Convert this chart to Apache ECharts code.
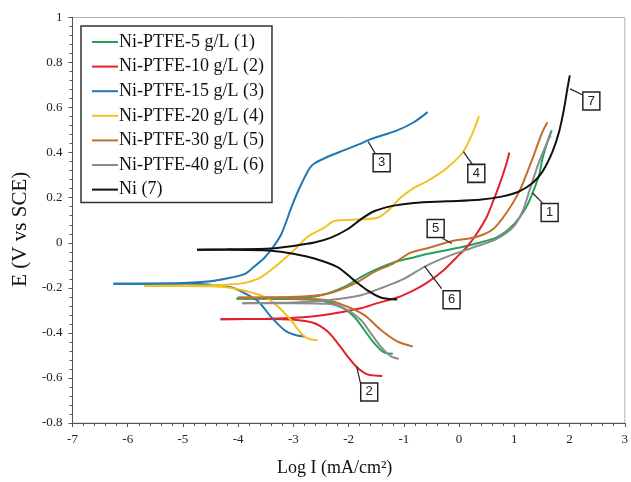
<!DOCTYPE html>
<html><head><meta charset="utf-8">
<script src="https://cdn.jsdelivr.net/npm/echarts@6/dist/echarts.min.js"></script>
<style>html,body{margin:0;padding:0;background:#fff}#c{width:631px;height:482px}</style>
</head><body><div id="c"></div>
<script>
// ---- data (Log I in mA/cm², E in V vs SCE) ----
const seriesNames = ['Ni-PTFE-5 g/L (1)','Ni-PTFE-10 g/L (2)','Ni-PTFE-15 g/L (3)','Ni-PTFE-20 g/L (4)','Ni-PTFE-30 g/L (5)','Ni-PTFE-40 g/L (6)','Ni (7)'];
const xTicks = [-7,-6,-5,-4,-3,-2,-1,0,1,2,3];
const yTicks = [-0.8,-0.6,-0.4,-0.2,0,0.2,0.4,0.6,0.8,1];

const cath1 = [[-4.03,-0.248],[-3.5,-0.249],[-2.98,-0.25],[-2.5,-0.256],[-2.14,-0.284],[-1.9,-0.328],[-1.72,-0.386],[-1.54,-0.445],[-1.36,-0.487],[-1.2,-0.493]];
const anod1 = [[-4.03,-0.247],[-3.5,-0.247],[-2.98,-0.246],[-2.5,-0.233],[-2.08,-0.196],[-1.78,-0.152],[-1.48,-0.116],[-1.12,-0.082],[-0.82,-0.065],[-0.585,-0.05],[0.013,-0.021],[0.313,-0.003],[0.673,0.023],[0.91,0.062],[1.09,0.111],[1.24,0.169],[1.33,0.221],[1.45,0.301],[1.51,0.374],[1.6,0.448],[1.677,0.499]];

const cath2 = [[-4.32,-0.339],[-3.5,-0.338],[-2.98,-0.342],[-2.62,-0.357],[-2.38,-0.394],[-2.2,-0.445],[-2.02,-0.504],[-1.84,-0.555],[-1.66,-0.584],[-1.39,-0.591]];
const anod2 = [[-4.32,-0.339],[-3.5,-0.337],[-2.98,-0.333],[-2.38,-0.318],[-1.78,-0.291],[-1.48,-0.268],[-1.12,-0.243],[-0.824,-0.211],[-0.585,-0.178],[-0.285,-0.123],[-0.047,-0.065],[0.133,-0.021],[0.313,0.038],[0.493,0.111],[0.64,0.199],[0.73,0.257],[0.85,0.345],[0.91,0.401]];

const cath3 = [[-6.26,-0.182],[-5.0,-0.182],[-4.5,-0.186],[-4.1,-0.2],[-3.85,-0.228],[-3.64,-0.26],[-3.4,-0.33],[-3.16,-0.388],[-2.98,-0.408],[-2.8,-0.416]];
const anod3 = [[-6.26,-0.182],[-5.0,-0.178],[-4.5,-0.171],[-4.235,-0.16],[-3.876,-0.138],[-3.72,-0.108],[-3.52,-0.065],[-3.4,-0.03],[-3.22,0.038],[-3.04,0.155],[-2.89,0.243],[-2.71,0.33],[-2.62,0.352],[-2.38,0.382],[-2.08,0.411],[-1.78,0.44],[-1.6,0.46],[-1.12,0.499],[-0.82,0.535],[-0.57,0.58]];

const cath4 = [[-5.7,-0.192],[-5.0,-0.192],[-4.5,-0.193],[-4.2,-0.198],[-3.88,-0.213],[-3.52,-0.24],[-3.34,-0.27],[-3.2,-0.302],[-3.04,-0.345],[-2.9,-0.39],[-2.8,-0.416],[-2.7,-0.428],[-2.56,-0.433]];
const anod4 = [[-5.7,-0.192],[-5.0,-0.19],[-4.5,-0.188],[-4.2,-0.186],[-3.88,-0.178],[-3.6,-0.155],[-3.34,-0.108],[-3.0,-0.035],[-2.74,0.027],[-2.44,0.067],[-2.26,0.097],[-1.78,0.104],[-1.48,0.111],[-1.3,0.14],[-1.065,0.199],[-0.824,0.243],[-0.585,0.272],[-0.226,0.331],[0.074,0.404],[0.253,0.492],[0.361,0.562]];

const cath5 = [[-4.0,-0.243],[-3.5,-0.244],[-2.98,-0.246],[-2.38,-0.255],[-2.02,-0.284],[-1.72,-0.32],[-1.42,-0.386],[-1.12,-0.438],[-0.84,-0.46]];
const anod5 = [[-4.0,-0.243],[-3.5,-0.242],[-2.98,-0.24],[-2.38,-0.226],[-1.9,-0.182],[-1.54,-0.13],[-1.18,-0.09],[-0.885,-0.045],[-0.526,-0.021],[-0.106,0.009],[0.313,0.026],[0.613,0.06],[0.85,0.13],[1.09,0.228],[1.33,0.374],[1.51,0.492],[1.6,0.535]];

const cath6 = [[-3.925,-0.268],[-3.5,-0.268],[-2.98,-0.268],[-2.38,-0.271],[-2.02,-0.299],[-1.78,-0.342],[-1.6,-0.401],[-1.42,-0.46],[-1.24,-0.503],[-1.09,-0.515]];
const anod6 = [[-3.925,-0.268],[-3.5,-0.267],[-2.98,-0.265],[-2.38,-0.255],[-1.78,-0.233],[-1.35,-0.195],[-1.0,-0.16],[-0.585,-0.101],[-0.167,-0.057],[0.253,-0.021],[0.673,0.016],[0.97,0.067],[1.15,0.14],[1.27,0.228],[1.45,0.36],[1.6,0.448],[1.66,0.477]];

const cath7 = [[-4.745,-0.031],[-4.2,-0.031],[-3.4,-0.035],[-2.98,-0.05],[-2.62,-0.07],[-2.2,-0.108],[-1.9,-0.167],[-1.66,-0.211],[-1.42,-0.243],[-1.12,-0.252]];
const anod7 = [[-4.745,-0.031],[-4.2,-0.029],[-3.4,-0.025],[-2.98,-0.013],[-2.62,0.001],[-2.32,0.023],[-2.02,0.06],[-1.78,0.104],[-1.54,0.14],[-1.18,0.165],[-0.82,0.177],[-0.226,0.184],[0.372,0.191],[0.79,0.206],[1.09,0.228],[1.33,0.265],[1.51,0.316],[1.69,0.404],[1.81,0.492],[1.9,0.594],[1.96,0.682],[2.005,0.743]];

// curve-number callouts (data coordinates)
const calloutText = ['1','2','3','4','5','6','7'];
const calloutAt   = [[1.64,0.134],[-1.627,-0.662],[-1.402,0.355],[0.312,0.308],[-0.424,0.063],[-0.136,-0.253],[2.395,0.629]];
const leaderFrom  = [[1.33,0.221],[-1.855,-0.55],[-1.645,0.449],[0.079,0.405],[-0.303,0.02],[-0.627,-0.104],[2.01,0.683]];
const leaderTo    = [[1.51,0.177],[-1.783,-0.625],[-1.519,0.396],[0.24,0.348],[-0.131,-0.003],[-0.316,-0.204],[2.25,0.655]];

// ---- styling ----
const colors = ['#20a257','#e4202a','#1f77b4','#f3c222','#c0702c','#8c8c8c','#111111'];
const branches = [[cath1,anod1],[cath2,anod2],[cath3,anod3],[cath4,anod4],[cath5,anod5],[cath6,anod6],[cath7,anod7]];
const serif = 'Liberation Serif, Times New Roman, serif';

const series = [];
branches.forEach((pair, i) => {
  pair.forEach(d => {
    series.push({
      name: seriesNames[i], type: 'line', data: d, smooth: 0.3,
      showSymbol: false, symbol: 'none',
      lineStyle: { color: colors[i], width: 2 },
      itemStyle: { color: colors[i] },
      silent: true, animation: false
    });
  });
});
series.push({
  type: 'lines', coordinateSystem: 'cartesian2d',
  data: leaderFrom.map((p, i) => ({ coords: [p, leaderTo[i]] })),
  lineStyle: { color: '#222', width: 1.2, opacity: 1 }, z: 4, silent: true, animation: false
});
series.push({
  type: 'scatter', symbol: 'rect', symbolSize: [17, 18],
  data: calloutAt.map((p, i) => ({ value: p, label: { formatter: calloutText[i] } })),
  itemStyle: { color: '#fff', borderColor: '#222', borderWidth: 1.5, opacity: 1 },
  label: { show: true, position: 'inside', color: '#222', fontSize: 13, fontFamily: 'Liberation Sans, Arial, sans-serif' },
  z: 5, silent: true, animation: false
});

const chart = echarts.init(document.getElementById('c'), null, { renderer: 'canvas' });
chart.setOption({
  animation: false,
  backgroundColor: '#fff',
  grid: { left: 72.5, right: 1, top: 17.5, bottom: 54.5, show: true, borderColor: '#b5b5b5', borderWidth: 1 },
  legend: {
    data: seriesNames, orient: 'vertical', left: 81, top: 26,
    padding: [7, 8, 4, 11], itemGap: 6.6, itemWidth: 26, itemHeight: 2, icon: 'rect',
    borderColor: '#333', borderWidth: 1.5, backgroundColor: '#fff',
    textStyle: { fontFamily: serif, fontSize: 18, color: '#111', lineHeight: 18, padding: [0, 0, 0, -4] }
  },
  xAxis: {
    type: 'value', min: xTicks[0], max: xTicks[xTicks.length - 1], interval: 1,
    axisLine: { onZero: false, lineStyle: { color: '#555', width: 1 } },
    axisTick: { length: 4, lineStyle: { color: '#555' } },
    minorTick: { show: true, splitNumber: 5, length: 3, lineStyle: { color: '#555' } },
    splitLine: { show: false },
    axisLabel: { fontFamily: serif, fontSize: 13, color: '#222', margin: 10 },
    name: 'Log I (mA/cm²)', nameLocation: 'middle', nameGap: 36,
    nameTextStyle: { fontFamily: serif, fontSize: 18, color: '#111', padding: [0, 28, 0, 0] }
  },
  yAxis: {
    type: 'value', min: yTicks[0], max: yTicks[yTicks.length - 1], interval: 0.2,
    axisLine: { onZero: false, lineStyle: { color: '#555', width: 1 } },
    axisTick: { length: 4, lineStyle: { color: '#555' } },
    minorTick: { show: true, splitNumber: 5, length: 3, lineStyle: { color: '#555' } },
    splitLine: { show: false },
    axisLabel: { fontFamily: serif, fontSize: 13, color: '#222', margin: 10 },
    name: 'E (V vs SCE)', nameLocation: 'middle', nameGap: 38,
    nameTextStyle: { fontFamily: serif, fontSize: 21, color: '#111', padding: [0, 18, 0, 0] }
  },
  series: series
});
</script></body></html>
